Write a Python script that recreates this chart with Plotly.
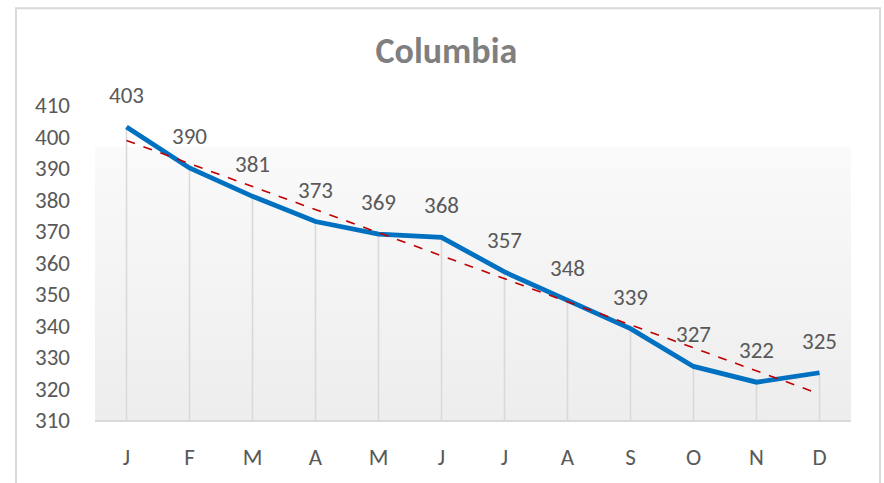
import numpy as np
import plotly.graph_objects as go

months = ["J", "F", "M", "A", "M", "J", "J", "A", "S", "O", "N", "D"]
values = [403, 390, 381, 373, 369, 368, 357, 348, 339, 327, 322, 325]
y_ticks = [310, 320, 330, 340, 350, 360, 370, 380, 390, 400, 410]
title_text = "Columbia"

idx = np.arange(len(values))
slope, intercept = np.polyfit(idx + 1, values, 1)
trend = intercept + slope * (idx + 1)

FONT = "Carlito, Lato, sans-serif"
base = min(y_ticks)

fig = go.Figure()

# drop lines
fig.add_trace(go.Scatter(
    x=idx, y=values, mode="markers",
    marker=dict(size=1, color="rgba(0,0,0,0)"),
    error_y=dict(type="data", symmetric=False,
                 array=[0] * len(values),
                 arrayminus=[v - base for v in values],
                 color="#d9d9d9", thickness=1.6, width=0),
    hoverinfo="skip", showlegend=False,
))

fig.add_trace(go.Scatter(
    x=idx, y=values, mode="lines",
    line=dict(color="#0070C0", width=4.8),
    showlegend=False, cliponaxis=False,
))

fig.add_trace(go.Scatter(
    x=idx, y=trend, mode="lines",
    line=dict(color="#C00000", width=1.6, dash="dash"),
    showlegend=False, cliponaxis=False,
))

for i, v in enumerate(values):
    fig.add_annotation(x=i, y=v, text=str(v), showarrow=False,
                       yshift=32, yanchor="middle",
                       font=dict(family=FONT, size=23, color="#595959"))

# gradient background
svg = ("data:image/svg+xml;utf8,<svg xmlns='http://www.w3.org/2000/svg' width='100' height='100' preserveAspectRatio='none'>"
       "<defs><linearGradient id='g' x1='0' y1='0' x2='0' y2='1'>"
       "<stop offset='0' stop-color='%23fafafa'/><stop offset='1' stop-color='%23ededed'/>"
       "</linearGradient></defs><rect width='100' height='100' fill='url(%23g)'/></svg>")
fig.add_layout_image(dict(source=svg, xref="paper", yref="paper", x=0, y=0.868,
                          sizex=1, sizey=0.868, xanchor="left", yanchor="top",
                          sizing="stretch", layer="below"))

# chart border
fig.add_shape(type="rect", xref="paper", yref="paper",
              x0=-79 / 756, x1=(880 - 95) / 756, y0=-0.3, y1=(424 - 7) / 319,
              line=dict(color="#d9d9d9", width=2), fillcolor="rgba(0,0,0,0)")

fig.update_layout(
    width=884, height=483,
    margin=dict(l=95, r=33, t=105, b=59),
    paper_bgcolor="white", plot_bgcolor="rgba(0,0,0,0)",
    title=dict(text="<b>" + title_text + "</b>", x=0.505, xanchor="center",
               y=1 - 50 / 483, yanchor="middle",
               font=dict(family=FONT, size=36, color="#7f7f7f")),
    xaxis=dict(tickmode="array", tickvals=list(idx), ticktext=months,
               range=[-0.5, len(values) - 0.5], showgrid=False, zeroline=False,
               showline=True, linecolor="#d9d9d9", linewidth=1.6, ticks="",
               tickfont=dict(family=FONT, size=23, color="#595959"),
               ticklabelstandoff=16),
    yaxis=dict(range=[310, 410], tickvals=y_ticks, showgrid=False, zeroline=False,
               showline=False, ticks="",
               tickfont=dict(family=FONT, size=23, color="#595959"),
               ticklabelstandoff=24),
)

fig.write_html("out.html", config={"displayModeBar": False},
               post_script="document.body.style.margin='0';document.body.style.padding='0';")
